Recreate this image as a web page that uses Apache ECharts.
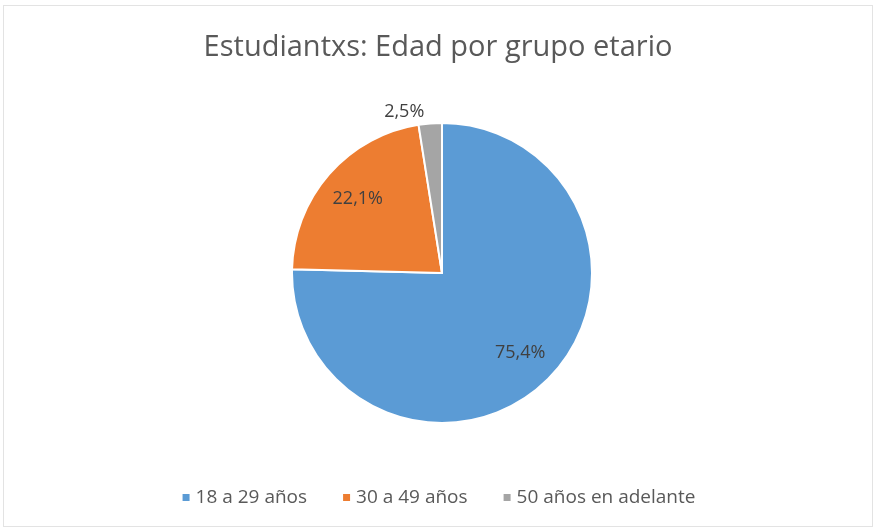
<!DOCTYPE html>
<html>
<head>
<meta charset="utf-8">
<script src="https://cdn.jsdelivr.net/npm/echarts@6/dist/echarts.min.js"></script>
<style>
  html, body { margin: 0; padding: 0; background: #fff; }
  #chart { position: absolute; left: 3px; top: 5px; width: 870px; height: 522px; border: 1px solid #e3e3e3; box-sizing: border-box; }
</style>
</head>
<body>
<div id="chart"></div>
<script>
// categorias y porcentajes
const categorias = ['18 a 29 años', '30 a 49 años', '50 años en adelante'];
const valores = [75.4, 22.1, 2.5];
const colores = ['#5B9BD5', '#ED7D31', '#A5A5A5'];

const chart = echarts.init(document.getElementById('chart'));

const fmt = p => p.value.toFixed(1).replace('.', ',') + '%';

// serie principal (dibuja las porciones)
const datosPie = categorias.map((c, i) => ({
  name: c,
  value: valores[i],
  itemStyle: { color: colores[i] },
  label: i === 2
    ? { show: true, position: 'outside' }
    : { show: false },
  labelLine: { show: false }
}));

// serie transparente solo para colocar etiquetas internas
const datosEtiquetas = categorias.map((c, i) => ({
  name: c,
  value: valores[i],
  label: { show: i !== 2 }
}));

const option = {
  animation: false,
  title: {
    text: 'Estudiantxs: Edad por grupo etario',
    left: 'center',
    top: 22,
    textStyle: { fontFamily: 'Open Sans', fontSize: 29, fontWeight: 'normal', color: '#595959' }
  },
  legend: {
    data: categorias,
    bottom: 14,
    left: 'center',
    icon: 'rect',
    itemWidth: 9,
    itemHeight: 9,
    itemGap: 34,
    textStyle: { fontFamily: 'Open Sans', fontSize: 19, color: '#595959' }
  },
  series: [
    {
      type: 'pie',
      center: [438, 267],
      radius: [0, 150],
      startAngle: 90,
      clockwise: true,
      silent: true,
      itemStyle: { borderColor: '#fff', borderWidth: 2 },
      label: {
        formatter: fmt,
        fontFamily: 'Open Sans',
        fontSize: 18,
        color: '#404040'
      },
      labelLine: { show: false, length: 12, length2: 0 },
      data: datosPie
    },
    {
      type: 'pie',
      center: [438, 267],
      radius: [0, 218],
      startAngle: 90,
      clockwise: true,
      silent: true,
      itemStyle: { color: 'rgba(0,0,0,0)' },
      label: {
        position: 'inside',
        formatter: fmt,
        fontFamily: 'Open Sans',
        fontSize: 18,
        color: '#404040'
      },
      labelLine: { show: false },
      data: datosEtiquetas
    }
  ]
};

chart.setOption(option);
</script>
</body>
</html>
